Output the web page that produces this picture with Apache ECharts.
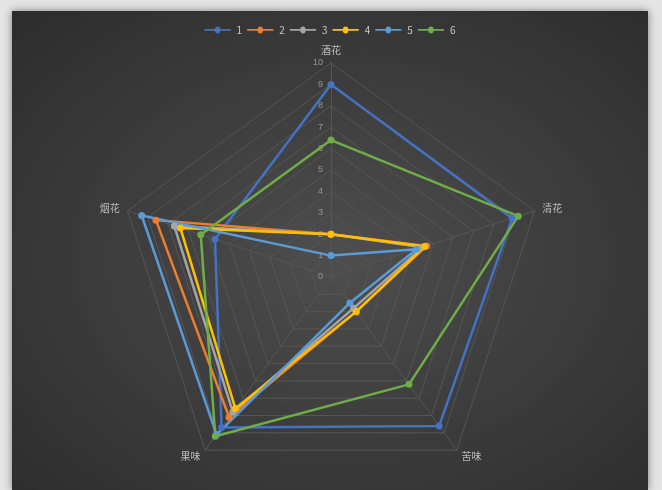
<!DOCTYPE html>
<html>
  <head>
    <meta charset='utf-8' />
    <title>Radar</title>
    <style>
      html, body { margin: 0; padding: 0; }
      body { width: 662px; height: 490px; background: #e4e4e4; overflow: hidden; position: relative; }
      #content {
        position: absolute; left: 12px; top: 11px; width: 636px; height: 479px;
        background: radial-gradient(ellipse at 52% 52%, #4e4e4e 0%, #3e3e3e 45%, #2c2c2c 100%);
        box-shadow: 0 0 8px rgba(0,0,0,0.45);
      }
    </style>
  </head>
  <body>
    <div id="content"></div>

    <script src="https://cdn.jsdelivr.net/npm/echarts@6/dist/echarts.min.js"></script>
    <script type="text/javascript">
      // axis names, clockwise from the top (as in the source)
      var axisNames = ['酒花', '清花', '苦味', '果味', '烟花'];
      var seriesNames = ['1', '2', '3', '4', '5', '6'];
      var colors = ['#4472C4', '#ED7D31', '#A5A5A5', '#FFC000', '#5B9BD5', '#70AD47'];

      // values, clockwise from the top
      var s1 = [9.0, 8.9, 8.6, 8.7, 5.7];
      var s2 = [2.0, 4.7, 2.0, 8.1, 8.6];
      var s3 = [2.0, 4.5, 1.8, 7.8, 7.7];
      var s4 = [2.0, 4.6, 2.0, 7.6, 7.4];
      var s5 = [1.0, 4.2, 1.5, 9.1, 9.3];
      var s6 = [6.4, 9.2, 6.2, 9.2, 6.4];
      var allValues = [s1, s2, s3, s4, s5, s6];

      // echarts lays indicators out counter-clockwise, so reorder
      var order = [0, 4, 3, 2, 1];

      var indicators = order.map(function (i, k) {
        var ind = { name: axisNames[i], min: 0, max: 10 };
        if (k === 0) {
          ind.axisLabel = { show: true };
        }
        return ind;
      });

      var seriesData = allValues.map(function (vals, idx) {
        return {
          name: seriesNames[idx],
          value: order.map(function (i) { return vals[i]; }),
          lineStyle: { color: colors[idx], width: 2.5 },
          itemStyle: { color: colors[idx] }
        };
      });

      // line with a dot in the middle, like the excel legend key
      var legendIcon = 'path://M0,4L12,4A3,3 0 0 1 18,4L30,4L30,6L18,6A3,3 0 0 1 12,6L0,6Z';

      var myChart = echarts.init(document.getElementById('content'));
      var options = {
        animation: false,
        color: colors,
        legend: {
          top: 9,
          left: 'center',
          icon: legendIcon,
          itemWidth: 28,
          itemHeight: 7,
          itemGap: 5,
          data: seriesNames,
          textStyle: { color: '#c8c8c8', fontSize: 10, fontFamily: 'Noto Sans CJK SC' }
        },
        radar: {
          center: [319, 266],
          radius: 214,
          startAngle: 90,
          splitNumber: 10,
          shape: 'polygon',
          indicator: indicators,
          nameGap: 8,
          axisName: { color: '#bdbdbd', fontSize: 10, fontFamily: 'Noto Sans CJK SC' },
          axisLine: { lineStyle: { color: '#565656', width: 1 } },
          splitLine: { lineStyle: { color: '#565656', width: 1 } },
          splitArea: { show: false },
          axisTick: { show: false },
          axisLabel: { show: false, color: '#959595', fontSize: 9, margin: 8, showMaxLabel: true, showMinLabel: true }
        },
        series: [{
          type: 'radar',
          symbol: 'circle',
          symbolSize: 7,
          data: seriesData
        }]
      };
      myChart.setOption(options);
    </script>
  </body>
</html>
